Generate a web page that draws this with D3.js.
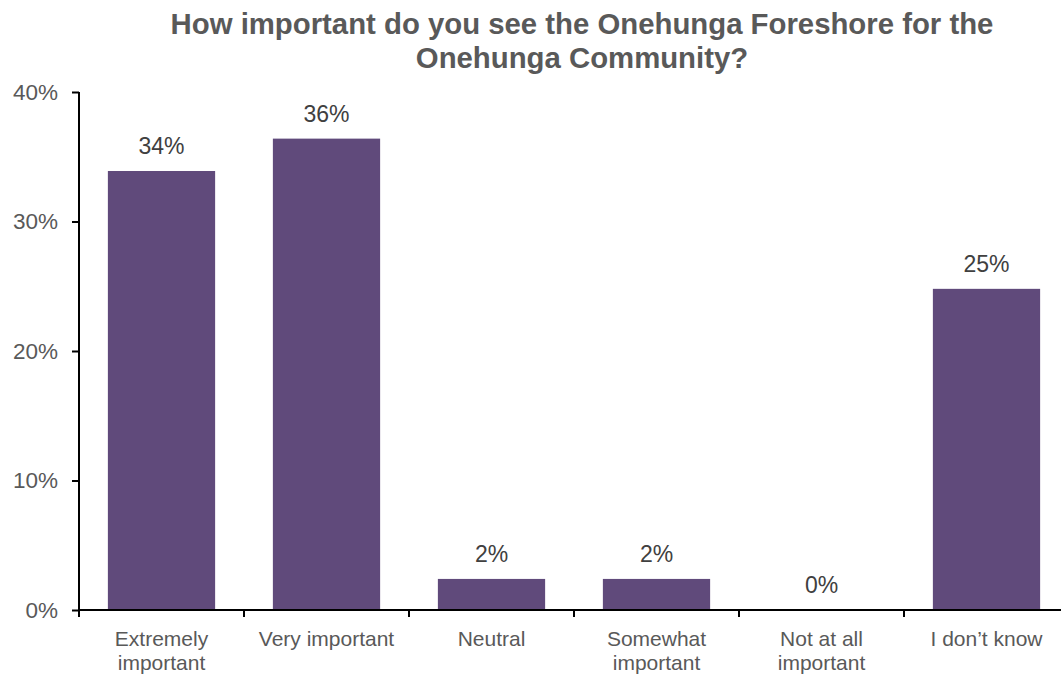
<!DOCTYPE html>
<html>
<head>
<meta charset="utf-8">
<script src="https://cdn.jsdelivr.net/npm/d3@7"></script>
<style>
  html, body { margin: 0; padding: 0; background: #fff; }
  svg { display: block; font-family: "Liberation Sans", Arial, sans-serif; }
</style>
</head>
<body>
<svg id="chart" width="1061" height="680"></svg>
<script>
// Survey responses: share of respondents per answer
const categories = [
  ["Extremely", "important"],
  ["Very important"],
  ["Neutral"],
  ["Somewhat", "important"],
  ["Not at all", "important"],
  ["I don\u2019t know"]
];
const shares = [0.339, 0.364, 0.024, 0.024, 0, 0.248];
const yTicks = [0, 0.1, 0.2, 0.3, 0.4];
const titleLines = [
  "How important do you see the Onehunga Foreshore for the",
  "Onehunga Community?"
];

const svg = d3.select("#chart");
const plotLeft = 79, plotRight = 1069, plotTop = 92, plotBottom = 610;

const x = d3.scaleBand()
  .domain(d3.range(categories.length))
  .range([plotLeft, plotRight])
  .paddingInner(0.35)
  .paddingOuter(0.175);

const y = d3.scaleLinear().domain([0, 0.4]).range([plotBottom, plotTop]);

// Title
svg.append("text")
  .attr("x", 582)
  .attr("y", 34)
  .attr("text-anchor", "middle")
  .attr("fill", "#595959")
  .attr("font-weight", "bold")
  .attr("font-size", 30)
  .attr("transform", "translate(582,0) scale(0.978,1) translate(-582,0)")
  .selectAll("tspan")
  .data(titleLines)
  .join("tspan")
  .attr("x", 582)
  .attr("dy", (d, i) => i === 0 ? 0 : 34)
  .text(d => d);

// Bars
svg.append("g")
  .selectAll("rect")
  .data(shares)
  .join("rect")
  .attr("x", (d, i) => x(i))
  .attr("width", x.bandwidth())
  .attr("y", d => y(d))
  .attr("height", d => plotBottom - y(d))
  .attr("fill", "#604a7b");

// Value labels
svg.append("g")
  .selectAll("text")
  .data(shares)
  .join("text")
  .attr("x", (d, i) => x(i) + x.bandwidth() / 2)
  .attr("y", d => y(d) - 17)
  .attr("text-anchor", "middle")
  .attr("fill", "#404040")
  .attr("font-size", 23)
  .text(d => d3.format(".0%")(d));

// Y axis
const yAxis = svg.append("g")
  .attr("transform", `translate(${plotLeft},0)`)
  .call(d3.axisLeft(y).tickValues(yTicks).tickFormat(d3.format(".0%")).tickSize(7).tickPadding(14));
yAxis.select(".domain").attr("stroke", "#000").attr("stroke-width", 2).attr("d", `M0,${plotTop}V${plotBottom}`);
yAxis.selectAll(".tick line").attr("stroke", "#000").attr("stroke-width", 2);
yAxis.selectAll(".tick text")
  .attr("fill", "#595959")
  .attr("font-size", 22.5)
  .attr("font-family", "Liberation Sans, Arial, sans-serif");

// X axis with ticks between categories
const xAxisG = svg.append("g").attr("transform", `translate(0,${plotBottom})`);
xAxisG.append("line")
  .attr("x1", plotLeft).attr("x2", plotRight)
  .attr("stroke", "#000").attr("stroke-width", 2);
const step = x.step();
const boundaries = d3.range(categories.length + 1).map(i => x(0) - step * x.paddingInner() / 2 + i * step);
xAxisG.selectAll("line.tick")
  .data(boundaries)
  .join("line")
  .attr("class", "tick")
  .attr("x1", d => d).attr("x2", d => d)
  .attr("y1", 0).attr("y2", 7)
  .attr("stroke", "#000").attr("stroke-width", 2);

// Category labels
xAxisG.selectAll("text.cat")
  .data(categories)
  .join("text")
  .attr("class", "cat")
  .attr("text-anchor", "middle")
  .attr("fill", "#595959")
  .attr("font-size", 21)
  .attr("transform", (d, i) => `translate(${x(i) + x.bandwidth() / 2},36)`)
  .selectAll("tspan")
  .data(d => d)
  .join("tspan")
  .attr("x", 0)
  .attr("dy", (d, i) => i === 0 ? 0 : 24)
  .text(d => d);
</script>
</body>
</html>
